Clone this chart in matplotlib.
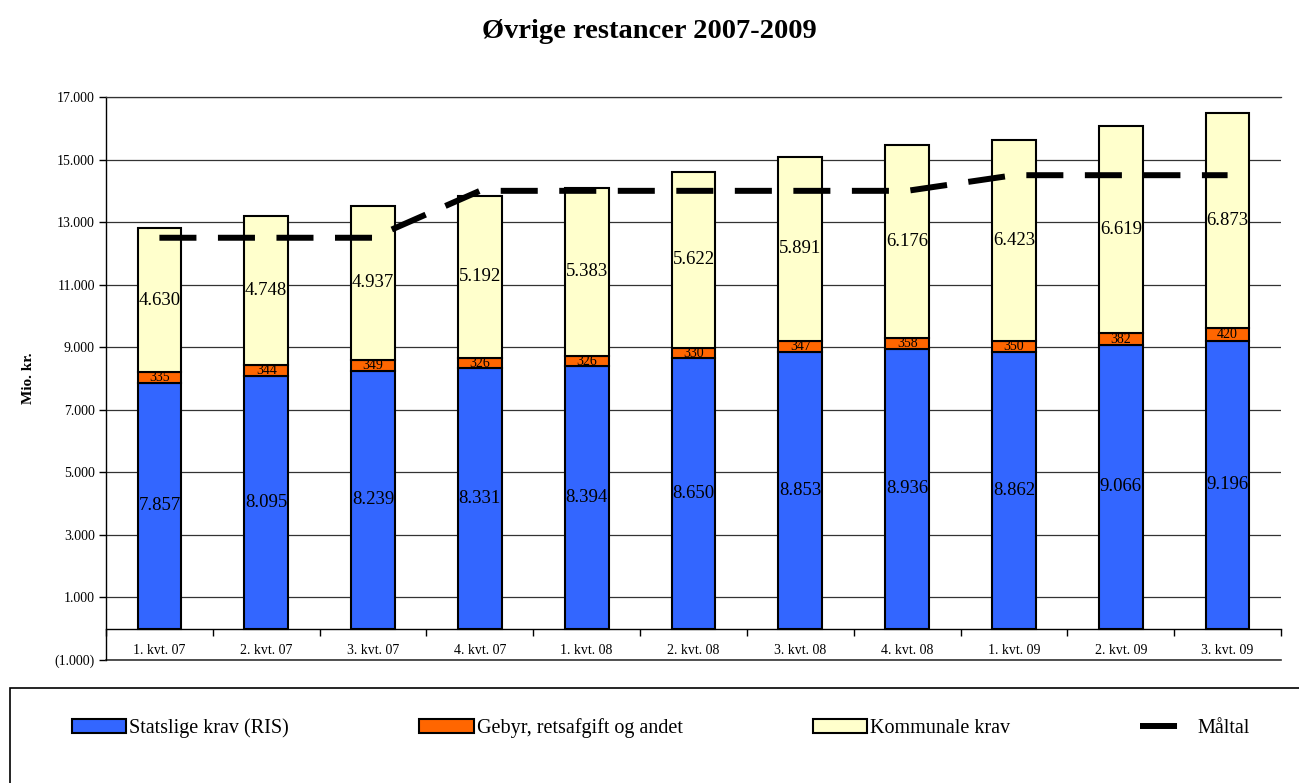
import matplotlib
matplotlib.use("Agg")
import matplotlib.pyplot as plt
import numpy as np
from matplotlib.patches import Rectangle
from matplotlib.lines import Line2D
from matplotlib.ticker import FuncFormatter, FixedLocator

categories = ["1. kvt. 07", "2. kvt. 07", "3. kvt. 07", "4. kvt. 07",
              "1. kvt. 08", "2. kvt. 08", "3. kvt. 08", "4. kvt. 08",
              "1. kvt. 09", "2. kvt. 09", "3. kvt. 09"]
statslige = [7857, 8095, 8239, 8331, 8394, 8650, 8853, 8936, 8862, 9066, 9196]
gebyr = [335, 344, 349, 326, 326, 330, 347, 358, 350, 382, 420]
kommunale = [4630, 4748, 4937, 5192, 5383, 5622, 5891, 6176, 6423, 6619, 6873]
maaltal = [12500, 12500, 12500, 14000, 14000, 14000, 14000, 14000, 14500, 14500, 14500]
yticks = [-1000, 1000, 3000, 5000, 7000, 9000, 11000, 13000, 15000, 17000]

plt.rcParams['font.family'] = ['Liberation Serif', 'DejaVu Serif']

W, H = 1299, 783
fig = plt.figure(figsize=(W / 100, H / 100), dpi=100)
ax = fig.add_axes([106 / W, 1 - 660 / H, (1281 - 106) / W, (660 - 97) / H])

x = np.arange(len(categories))
bw = 0.41
c_blue, c_orange, c_yellow = "#3366FF", "#FF6600", "#FFFFCC"
ek = dict(edgecolor="black", linewidth=1.5, zorder=3)

stat = np.array(statslige)
geb = np.array(gebyr)
kom = np.array(kommunale)

b1 = ax.bar(x, stat, bw, color=c_blue, label="Statslige krav (RIS)", **ek)
b2 = ax.bar(x, geb, bw, bottom=stat, color=c_orange, label="Gebyr, retsafgift og andet", **ek)
b3 = ax.bar(x, kom, bw, bottom=stat + geb, color=c_yellow, label="Kommunale krav", **ek)

dash = (6.2, 3.6)
ln, = ax.plot(x, maaltal, color="black", lw=4.3, linestyle=(0, dash),
              solid_capstyle="butt", dash_capstyle="butt", zorder=5, label="Måltal")

def fmt(v):
    s = f"{abs(v):,.0f}".replace(",", ".")
    return f"({s})" if v < 0 else s

for i in range(len(x)):
    ax.text(x[i], stat[i] / 2, fmt(stat[i]), ha="center", va="center", fontsize=13.5, zorder=6)
    ax.text(x[i], stat[i] + geb[i] / 2, fmt(geb[i]), ha="center", va="center", fontsize=10, zorder=6)
    ax.text(x[i], stat[i] + geb[i] + kom[i] / 2, fmt(kom[i]), ha="center", va="center", fontsize=13.5, zorder=6)

ax.set_xlim(-0.5, len(categories) - 0.5)
ax.set_ylim(yticks[0], yticks[-1])
ax.yaxis.set_major_locator(FixedLocator(yticks))
ax.yaxis.set_major_formatter(FuncFormatter(lambda v, p: fmt(v)))
ax.tick_params(axis="y", labelsize=10, length=5, width=1, direction="out", pad=3)
ax.grid(axis="y", color="#333333", linewidth=0.9)
ax.set_axisbelow(True)

# category axis at zero with ticks at category boundaries
ax.spines["bottom"].set_position(("data", 0))
ax.spines["bottom"].set_linewidth(1.0)
ax.spines["right"].set_visible(False)
ax.spines["top"].set_color("#333333")
ax.spines["top"].set_linewidth(0.9)
ax.spines["left"].set_linewidth(1.0)
ax.set_xticks(np.arange(-0.5, len(categories), 1.0))
ax.tick_params(axis="x", length=5, width=1, direction="out", labelbottom=False)
ax.axhline(ax.get_ylim()[0], color="#333333", lw=1.2, clip_on=False, zorder=1)

for i, c in enumerate(categories):
    ax.text(x[i], 0.016, c, transform=ax.get_xaxis_transform(), ha="center",
            va="center", fontsize=10)

ax.set_ylabel("Mio. kr.", fontsize=11, fontweight="bold", labelpad=14)

fig.suptitle("Øvrige restancer 2007-2009", fontsize=20.5, fontweight="bold", y=1 - 19 / H, va="top")

# legend frame
fig.patches.append(Rectangle((10 / W, -0.2), 1.2, (783 - 688) / H + 0.2,
                             transform=fig.transFigure, fill=False,
                             edgecolor="black", linewidth=1.2))
leg_line = Line2D([], [], color="black", lw=4.3, linestyle=(0, dash), dash_capstyle="butt")
fig.legend([b1, b2, b3, leg_line],
           ["Statslige krav (RIS)", "Gebyr, retsafgift og andet", "Kommunale krav", "Måltal"],
           loc="center", bbox_to_anchor=(72 / W, 1 - 728 / H, (1250 - 72) / W, 0.0),
           mode="expand", ncol=4, frameon=False, fontsize=14.5,
           handlelength=2.7, handleheight=0.75, handletextpad=0.15,
           borderpad=0, borderaxespad=0)

fig.savefig("out.png", dpi=100)
